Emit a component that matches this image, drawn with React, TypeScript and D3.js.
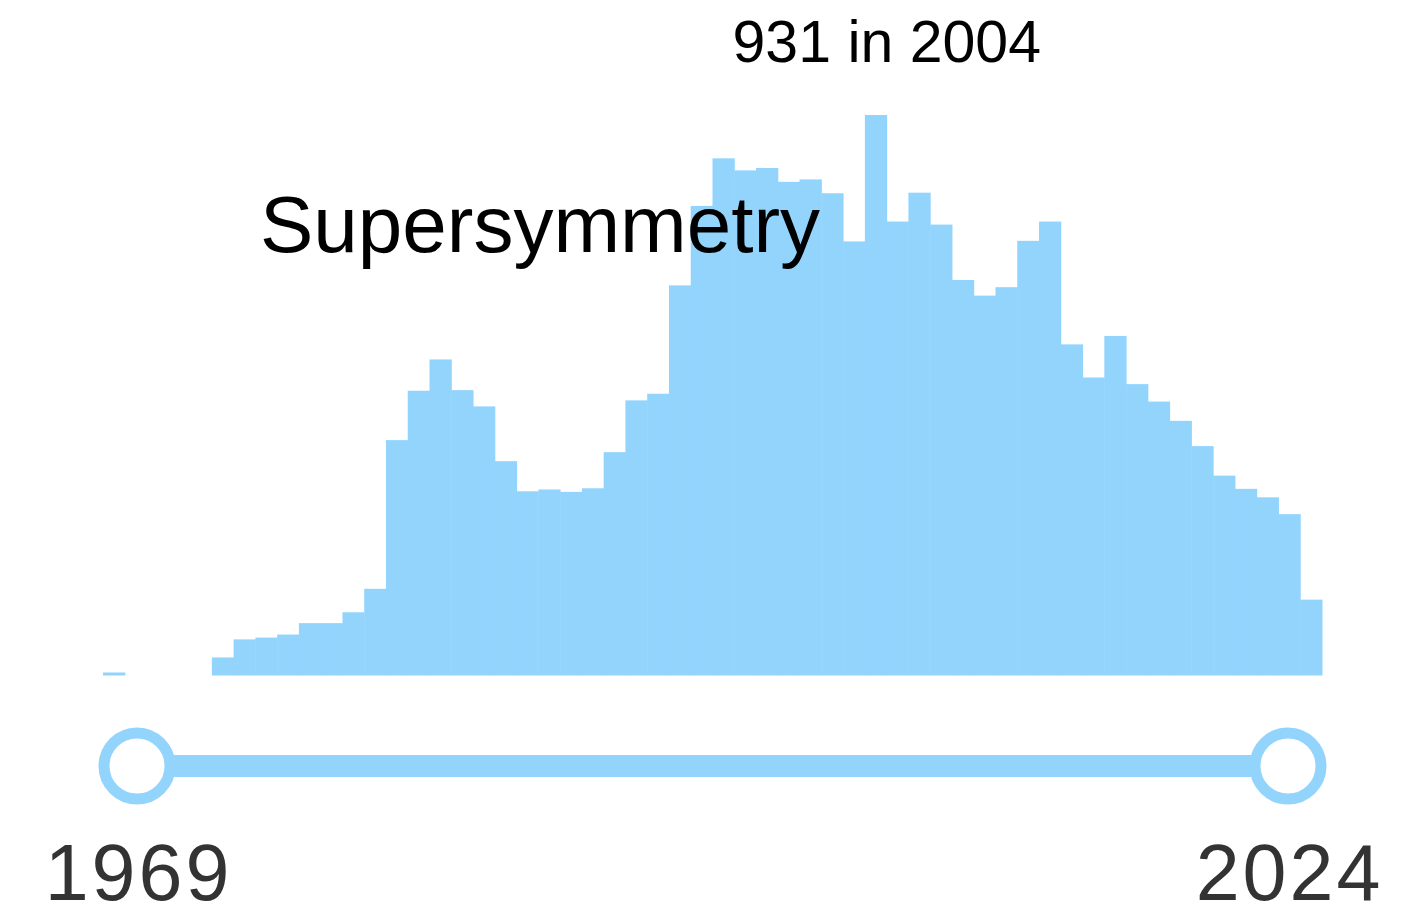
import * as d3 from "d3";

// Yearly counts, 1969 → 2024
const START_YEAR = 1969;
const END_YEAR = 2024;
const COUNTS = [
  5, 0, 0, 0, 0, 30, 60, 63, 68, 87,
  87, 105, 144, 391, 473, 525, 474, 447, 356, 306,
  309, 305, 311, 371, 457, 468, 648, 780, 859, 839,
  843, 820, 824, 801, 721, 931, 754, 802, 749, 657,
  631, 645, 722, 754, 550, 495, 564, 484, 455, 423,
  381, 332, 310, 296, 268, 126,
];
const YEARS = COUNTS.map((_, i) => START_YEAR + i);
const TOPIC = "Supersymmetry";

const W = 1409;
const H = 917;
const BLUE = "#93d4fd";

const PLOT = { left: 103, right: 1322, top: 115, bottom: 675.5 };
const SLIDER = { left: 137, right: 1288, y: 766 };

export default function App() {
  const x = d3.scaleBand<number>().domain(YEARS).range([PLOT.left, PLOT.right]).padding(0);
  const maxCount = d3.max(COUNTS) ?? 1;
  const y = d3.scaleLinear().domain([0, maxCount]).range([PLOT.bottom, PLOT.top]);
  const peakIdx = COUNTS.indexOf(maxCount);
  const peakYear = YEARS[peakIdx];

  const sx = d3.scaleLinear().domain([START_YEAR, END_YEAR]).range([SLIDER.left, SLIDER.right]);

  return (
    <svg
      width={W}
      height={H}
      style={{ position: "absolute", left: 0, top: 0, background: "#fff" }}
      fontFamily="'Liberation Sans', Arial, Helvetica, sans-serif"
    >
      {/* bars */}
      <g>
        {COUNTS.map((c, i) =>
          c > 0 ? (
            <rect
              key={YEARS[i]}
              x={x(YEARS[i])}
              y={y(c)}
              width={x.bandwidth() + 0.5}
              height={PLOT.bottom - y(c)}
              fill={BLUE}
            />
          ) : null,
        )}
      </g>

      {/* peak label — sits a little right of the peak bar's centre */}
      <text
        x={(x(peakYear) ?? 0) + x.bandwidth() / 2 + 11}
        y={62}
        fontSize={59}
        textAnchor="middle"
        fill="#000"
      >
        {`${maxCount} in ${peakYear}`}
      </text>

      {/* topic title */}
      <text x={260} y={252} fontSize={80} fill="#000">
        {TOPIC}
      </text>

      {/* range slider */}
      <line
        x1={sx(START_YEAR)}
        x2={sx(END_YEAR)}
        y1={SLIDER.y}
        y2={SLIDER.y}
        stroke={BLUE}
        strokeWidth={22}
      />
      {[START_YEAR, END_YEAR].map((yr) => (
        <g key={yr}>
          <circle cx={sx(yr)} cy={SLIDER.y} r={33} fill="#fff" stroke={BLUE} strokeWidth={11} />
          <text
            x={sx(yr) + 1.5}
            y={900}
            fontSize={79}
            letterSpacing={3}
            textAnchor="middle"
            fill="#333"
          >
            {yr}
          </text>
        </g>
      ))}
    </svg>
  );
}
